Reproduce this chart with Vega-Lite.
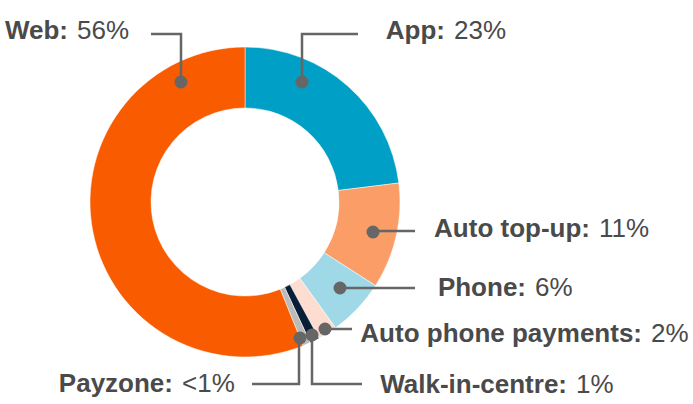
{
  "$schema": "https://vega.github.io/schema/vega-lite/v6.json",
  "width": 490,
  "height": 404,
  "autosize": {"type": "none"},
  "padding": {"left": 0, "top": 0, "right": 203, "bottom": 0},
  "background": "white",
  "config": {"view": {"stroke": null}},
  "datasets": {
    "slices": [
      {"channel": "App", "share": 23, "i": 1},
      {"channel": "Auto top-up", "share": 11, "i": 2},
      {"channel": "Phone", "share": 6, "i": 3},
      {"channel": "Auto phone payments", "share": 2, "i": 4},
      {"channel": "Walk-in-centre", "share": 1, "i": 5},
      {"channel": "Payzone", "share": 0.8, "i": 6},
      {"channel": "Web", "share": 56, "i": 7}
    ],
    "leaders": [
      {"channel": "Web", "seq": 1, "x": -94, "y": -168},
      {"channel": "Web", "seq": 2, "x": -64, "y": -168},
      {"channel": "Web", "seq": 3, "x": -64, "y": -120},
      {"channel": "App", "seq": 1, "x": 113, "y": -168},
      {"channel": "App", "seq": 2, "x": 57, "y": -168},
      {"channel": "App", "seq": 3, "x": 57, "y": -120},
      {"channel": "Auto top-up", "seq": 1, "x": 128, "y": 29},
      {"channel": "Auto top-up", "seq": 2, "x": 170, "y": 29},
      {"channel": "Phone", "seq": 1, "x": 95, "y": 86},
      {"channel": "Phone", "seq": 2, "x": 170, "y": 86},
      {"channel": "Auto phone payments", "seq": 1, "x": 80, "y": 127},
      {"channel": "Auto phone payments", "seq": 2, "x": 107, "y": 127},
      {"channel": "Walk-in-centre", "seq": 1, "x": 67, "y": 133},
      {"channel": "Walk-in-centre", "seq": 2, "x": 67, "y": 182},
      {"channel": "Walk-in-centre", "seq": 3, "x": 117, "y": 182},
      {"channel": "Payzone", "seq": 1, "x": 54, "y": 136},
      {"channel": "Payzone", "seq": 2, "x": 54, "y": 182},
      {"channel": "Payzone", "seq": 3, "x": 7, "y": 182}
    ],
    "labels": [
      {"channel": "Web", "name": "Web:", "pct": "56%", "labelX": -177, "labelY": -163, "dotX": -64, "dotY": -120},
      {"channel": "App", "name": "App:", "pct": "23%", "labelX": 200, "labelY": -163, "dotX": 57, "dotY": -120},
      {"channel": "Auto top-up", "name": "Auto top-up:", "pct": "11%", "labelX": 345, "labelY": 35, "dotX": 128, "dotY": 30},
      {"channel": "Phone", "name": "Phone:", "pct": "6%", "labelX": 281, "labelY": 94, "dotX": 95, "dotY": 86},
      {"channel": "Auto phone payments", "name": "Auto phone payments:", "pct": "2%", "labelX": 397, "labelY": 140, "dotX": 80, "dotY": 127},
      {"channel": "Walk-in-centre", "name": "Walk-in-centre:", "pct": "1%", "labelX": 322, "labelY": 191, "dotX": 67, "dotY": 133},
      {"channel": "Payzone", "name": "Payzone:", "pct": "<1%", "labelX": -72, "labelY": 190, "dotX": 55, "dotY": 136}
    ]
  },
  "layer": [
    {
      "data": {"name": "slices"},
      "mark": {"type": "arc", "outerRadius": 155, "innerRadius": 94, "stroke": "#ffffff", "strokeWidth": 0.5},
      "encoding": {
        "theta": {"field": "share", "type": "quantitative"},
        "order": {"field": "i", "type": "quantitative"},
        "color": {
          "field": "channel",
          "type": "nominal",
          "scale": {
            "domain": ["App", "Auto top-up", "Phone", "Auto phone payments", "Walk-in-centre", "Payzone", "Web"],
            "range": ["#00A0C6", "#FA9D66", "#9FD9E8", "#FDDDD0", "#0B1E37", "#BBBBBB", "#F95C00"]
          },
          "legend": null
        }
      }
    },
    {
      "data": {"name": "leaders"},
      "mark": {"type": "line", "color": "#666666", "strokeWidth": 2.5, "strokeCap": "butt"},
      "encoding": {
        "x": {"field": "x", "type": "quantitative", "scale": {"domain": [-245, 245], "nice": false, "zero": false}, "axis": null},
        "y": {"field": "y", "type": "quantitative", "scale": {"domain": [-202, 202], "reverse": true, "nice": false, "zero": false}, "axis": null},
        "detail": {"field": "channel", "type": "nominal"},
        "order": {"field": "seq", "type": "quantitative"}
      }
    },
    {
      "data": {"name": "labels"},
      "mark": {"type": "point", "filled": true, "color": "#666666", "size": 169, "opacity": 1},
      "encoding": {
        "x": {"field": "dotX", "type": "quantitative"},
        "y": {"field": "dotY", "type": "quantitative"}
      }
    },
    {
      "data": {"name": "labels"},
      "mark": {"type": "text", "align": "right", "baseline": "alphabetic", "font": "Liberation Sans", "fontSize": 26, "fontWeight": "bold", "color": "#4a4a4a"},
      "encoding": {
        "x": {"field": "labelX", "type": "quantitative"},
        "y": {"field": "labelY", "type": "quantitative"},
        "text": {"field": "name", "type": "nominal"}
      }
    },
    {
      "data": {"name": "labels"},
      "mark": {"type": "text", "align": "left", "baseline": "alphabetic", "dx": 9, "font": "Liberation Sans", "fontSize": 26, "color": "#4a4a4a"},
      "encoding": {
        "x": {"field": "labelX", "type": "quantitative"},
        "y": {"field": "labelY", "type": "quantitative"},
        "text": {"field": "pct", "type": "nominal"}
      }
    }
  ]
}
